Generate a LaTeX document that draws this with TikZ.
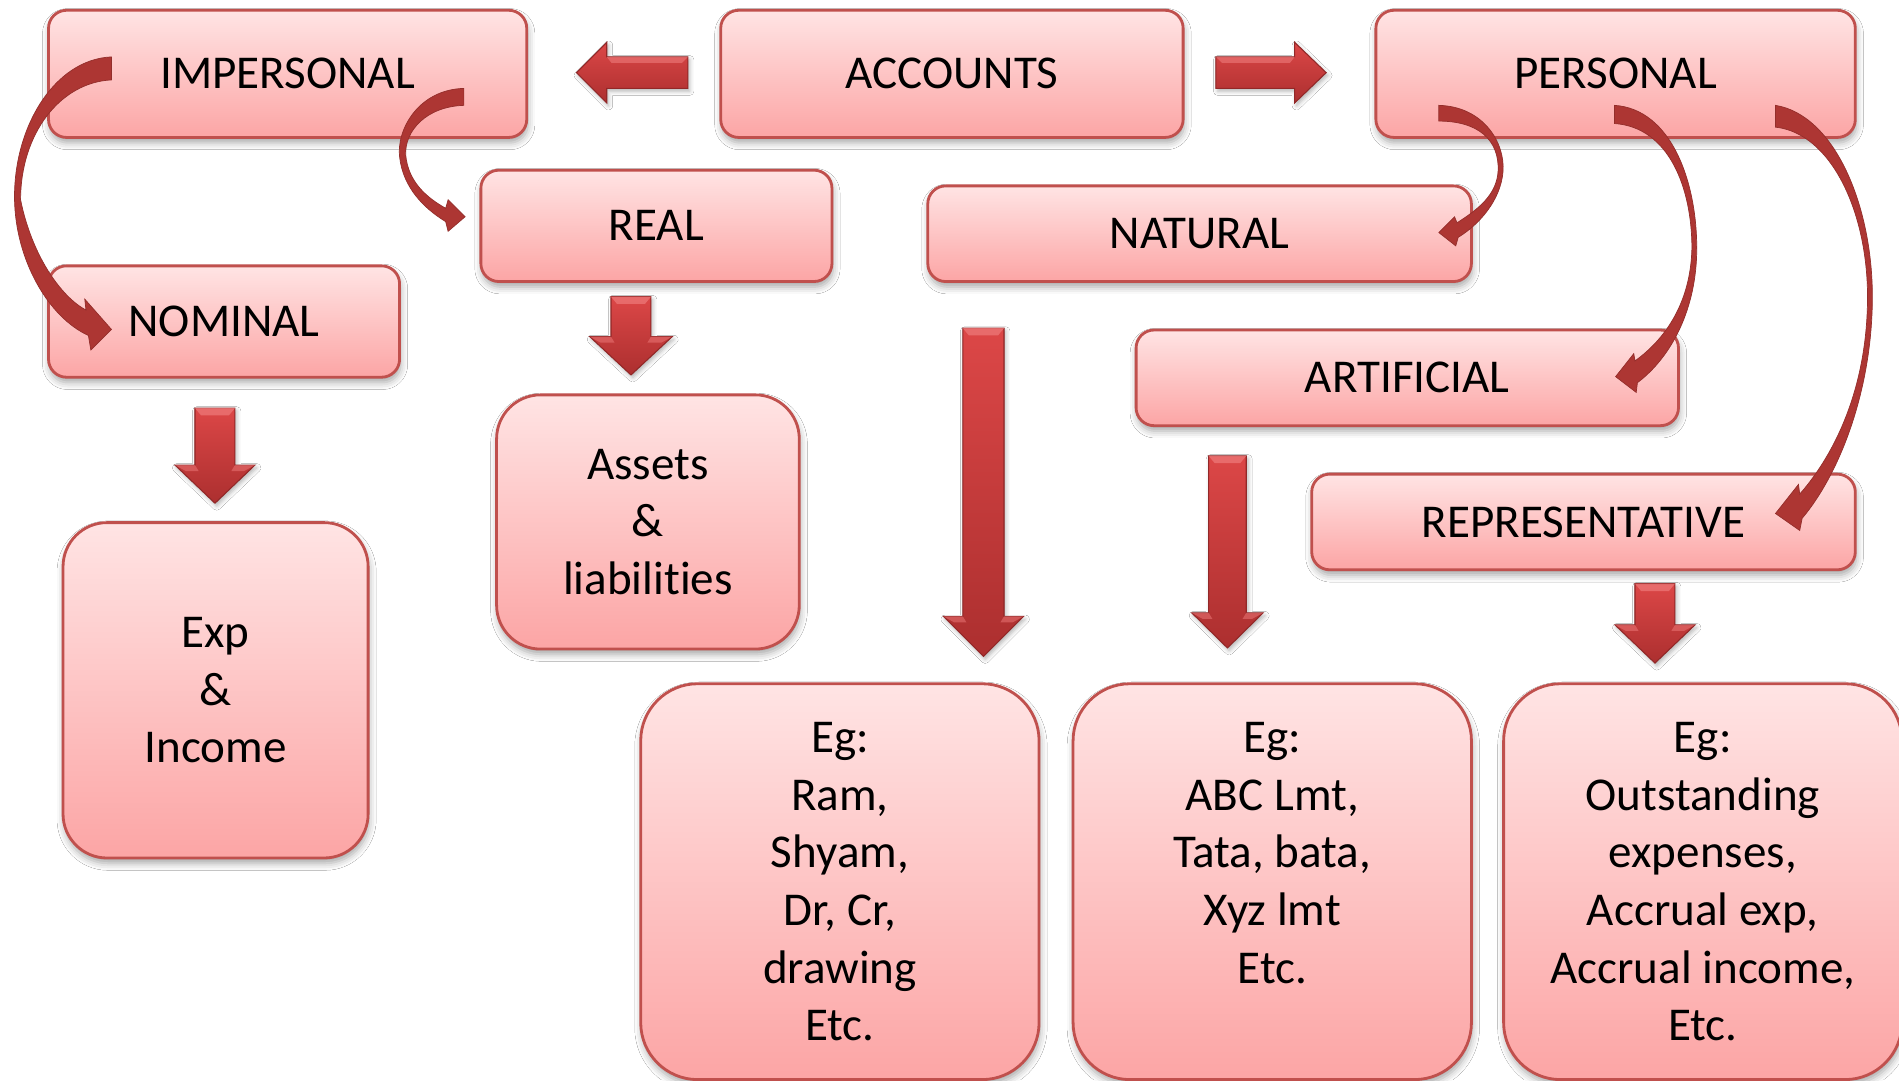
\documentclass[tikz,border=0pt]{standalone}
\usepackage{fontspec}
\setmainfont{Carlito}[Ligatures=NoCommon]
\usetikzlibrary{shadows.blur}
\definecolor{bord}{HTML}{C0504D}
\definecolor{boxtop}{HTML}{FFE4E4}
\definecolor{boxbot}{HTML}{FCA5A5}
\definecolor{arrtop}{HTML}{DC4747}
\definecolor{arrbot}{HTML}{AC2F2F}
\definecolor{arrhi}{HTML}{EE7B7B}
\definecolor{curv}{HTML}{AD3633}
\tikzset{
  box/.style={draw=bord, line width=0.8pt, top color=boxtop, bottom color=boxbot,
    align=center, inner sep=0pt, text=black,
    font=\fontsize{13.4pt}{16.4pt}\selectfont,
    blur shadow={shadow xshift=0.3pt, shadow yshift=-1.5pt, shadow blur radius=2pt, shadow opacity=35}},
  smallbox/.style={box, rounded corners=0.18cm},
  midbox/.style={box, rounded corners=0.44cm},
  bigbox/.style={box, rounded corners=0.57cm},
  blockarr/.style={top color=arrtop, bottom color=arrbot, draw=arrbot!85!black, line width=0.3pt,
    blur shadow={shadow xshift=0.5pt, shadow yshift=-0.8pt, shadow blur radius=1.2pt, shadow opacity=30}},
  curved/.style={fill=curv, draw=curv!85!black, line width=0.2pt}
}
\newcommand\blkdown[6]{% cx, ytop, yhead, ytip, half shaft, half head
  \fill[blockarr] ({#1-#5},#2) -- ({#1+#5},#2) -- ({#1+#5},#3) -- ({#1+#6},#3) -- (#1,#4) -- ({#1-#6},#3) -- ({#1-#5},#3) -- cycle;
  \fill[arrhi, opacity=0.7] ({#1-#5},#2) -- ({#1+#5},#2) -- ({#1+#5-5},{#2+6}) -- ({#1-#5+5},{#2+6}) -- cycle;
  \fill[arrhi, opacity=0.5] ({#1-#6},#3) -- ({#1-#5},#3) -- ({#1-#5+3},{#3+5}) -- ({#1-#6+9},{#3+5}) -- cycle;
  \fill[arrhi, opacity=0.5] ({#1+#6},#3) -- ({#1+#5},#3) -- ({#1+#5-3},{#3+5}) -- ({#1+#6-9},{#3+5}) -- cycle;
}
\begin{document}
\begin{tikzpicture}[x=0.012111cm, y=-0.012111cm]
\fill[white] (0,0) rectangle (1568,892);
\useasboundingbox (0,0) rectangle (1568,892);

% boxes
\node[smallbox, minimum width=4.784cm, minimum height=1.272cm] (impersonal) at (237.5,61) {IMPERSONAL};
\node[smallbox, minimum width=4.626cm, minimum height=1.272cm] (accounts) at (786,61) {ACCOUNTS};
\node[smallbox, minimum width=4.796cm, minimum height=1.272cm] (personal) at (1334,61) {PERSONAL};
\node[smallbox, minimum width=3.512cm, minimum height=1.114cm] (real) at (542,186.5) {REAL};
\node[smallbox, minimum width=5.438cm, minimum height=0.957cm] (natural) at (990.5,193) {NATURAL};
\node[smallbox, minimum width=3.512cm, minimum height=1.114cm] (nominal) at (185,265.5) {NOMINAL};
\node[smallbox, minimum width=5.426cm, minimum height=0.957cm] (artificial) at (1162,312) {ARTIFICIAL};
\node[smallbox, minimum width=5.438cm, minimum height=0.957cm] (repr) at (1307.5,431) {REPRESENTATIVE};
\node[midbox, minimum width=3.028cm, minimum height=2.543cm] (assets) at (535,431) {Assets\\\&\\liabilities};
\node[midbox, minimum width=3.052cm, minimum height=3.355cm] (expinc) at (178,570) {Exp\\\&\\Income};
\node[bigbox, minimum width=3.985cm, minimum height=3.960cm] (egpers) at (693.5,728) {Eg:\\Ram,\\Shyam,\\Dr, Cr,\\drawing\\Etc.};
\node[bigbox, minimum width=3.985cm, minimum height=3.960cm] (egart) at (1050.5,728) {Eg:\\ABC Lmt,\\Tata, bata,\\Xyz lmt\\Etc.\\\mbox{}};
\node[bigbox, minimum width=3.985cm, minimum height=3.960cm] (egrep) at (1406,728) {Eg:\\Outstanding\\expenses,\\Accrual exp,\\Accrual income,\\Etc.};

% horizontal block arrows
\fill[blockarr] (568,47) -- (501,47) -- (501,35) -- (476,60) -- (501,85) -- (501,73) -- (568,73) -- cycle;
\fill[arrhi, opacity=0.6] (568,47) -- (501,47) -- (505,52) -- (563,52) -- cycle;
\fill[blockarr] (1004,47) -- (1069,47) -- (1069,35) -- (1095,60) -- (1069,85) -- (1069,73) -- (1004,73) -- cycle;
\fill[arrhi, opacity=0.6] (1004,47) -- (1069,47) -- (1065,52) -- (1009,52) -- cycle;

% vertical block arrows
\blkdown{177.5}{337}{384}{415.5}{16.5}{33}
\blkdown{521}{245}{278}{309.6}{16.5}{34}
\blkdown{812}{271}{509}{542}{17}{33}
\blkdown{1013.5}{376.5}{506}{535}{15.5}{29.5}
\blkdown{1366.5}{482}{516}{547.5}{16.5}{33}

% curved arrows
\fill[curved] (92,47) .. controls (45,49) and (11,105) .. (12,165) .. controls (13,215) and (40,262) .. (73,277) -- (75,289) -- (92,272) -- (70,247) -- (71,256) .. controls (50,245) and (26,210) .. (17,165) .. controls (17,110) and (50,68) .. (92,66) -- cycle;
\fill[curved] (383,73) .. controls (345,74) and (327,108) .. (330,130) .. controls (333,155) and (350,172) .. (368,183) -- (370,191) -- (384,179) -- (370,165) -- (368,172) .. controls (352,163) and (337,150) .. (335,128) .. controls (334,108) and (352,88) .. (383,87) -- cycle;
\fill[curved] (1188,87) .. controls (1225,88) and (1243,118) .. (1241,142) .. controls (1239,165) and (1222,185) .. (1204,196) -- (1202,203) -- (1188,192) -- (1201,179) -- (1203,184) .. controls (1222,172) and (1236,160) .. (1237,141) .. controls (1238,115) and (1220,100) .. (1188,100) -- cycle;
\fill[curved] (1333,87) .. controls (1380,90) and (1401,150) .. (1401,205) .. controls (1401,255) and (1380,295) .. (1352,316) -- (1351,324) -- (1334,311) -- (1349,292) -- (1350,298) .. controls (1375,280) and (1396,250) .. (1397,205) .. controls (1397,155) and (1378,105) .. (1333,102) -- cycle;
\fill[curved] (1466,87) .. controls (1515,95) and (1546,170) .. (1546,245) .. controls (1546,320) and (1520,390) .. (1488,428) -- (1486,438) -- (1466,424) -- (1485,400) -- (1486,408) .. controls (1515,375) and (1542,320) .. (1542,245) .. controls (1542,175) and (1512,110) .. (1466,105) -- cycle;
\end{tikzpicture}
\end{document}
